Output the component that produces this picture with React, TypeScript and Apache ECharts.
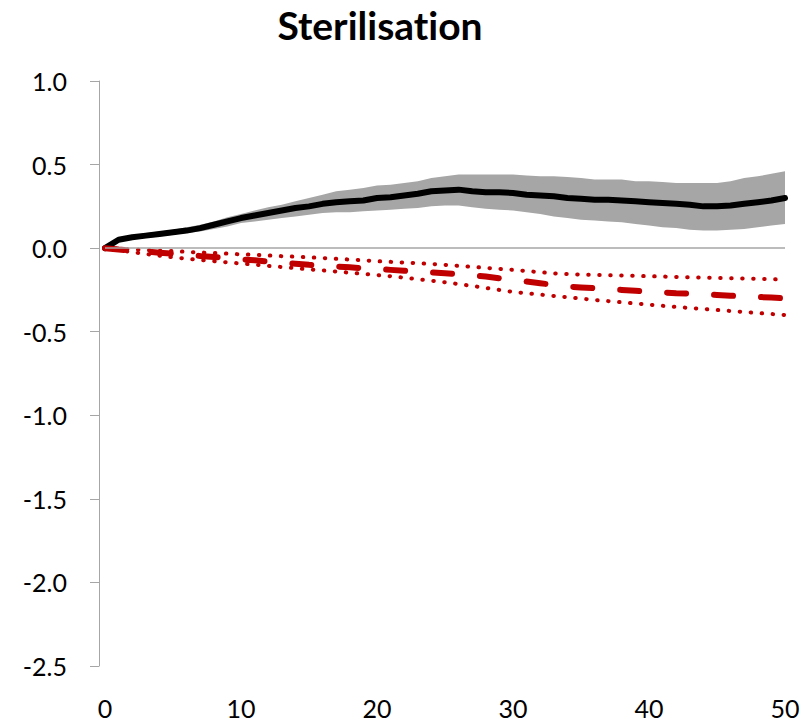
import React, { useEffect, useRef } from "react";
import * as echarts from "echarts";

const xs: string[] = Array.from({ length: 51 }, (_, i) => String(i));

const blackMean = [0, 0.05, 0.065, 0.075, 0.085, 0.095, 0.105, 0.12, 0.14, 0.16, 0.18, 0.195, 0.21, 0.225, 0.24, 0.25, 0.265, 0.275, 0.28, 0.285, 0.3, 0.305, 0.315, 0.325, 0.34, 0.345, 0.35, 0.34, 0.335, 0.335, 0.33, 0.32, 0.315, 0.31, 0.3, 0.295, 0.29, 0.29, 0.285, 0.28, 0.275, 0.27, 0.265, 0.26, 0.25, 0.25, 0.255, 0.265, 0.275, 0.285, 0.3];

const bandUpper = [0, 0.06, 0.075, 0.09, 0.1, 0.11, 0.125, 0.14, 0.16, 0.185, 0.205, 0.225, 0.245, 0.26, 0.28, 0.3, 0.32, 0.34, 0.35, 0.36, 0.375, 0.38, 0.39, 0.4, 0.42, 0.43, 0.44, 0.44, 0.44, 0.44, 0.44, 0.435, 0.43, 0.43, 0.425, 0.42, 0.41, 0.41, 0.41, 0.4, 0.4, 0.395, 0.39, 0.39, 0.39, 0.39, 0.4, 0.42, 0.43, 0.445, 0.46];

const bandLower = [0, 0.04, 0.055, 0.06, 0.07, 0.08, 0.09, 0.1, 0.115, 0.13, 0.15, 0.16, 0.17, 0.18, 0.19, 0.2, 0.21, 0.215, 0.215, 0.22, 0.225, 0.23, 0.235, 0.24, 0.25, 0.255, 0.255, 0.245, 0.235, 0.23, 0.225, 0.215, 0.205, 0.19, 0.18, 0.17, 0.165, 0.16, 0.155, 0.145, 0.135, 0.125, 0.12, 0.11, 0.105, 0.105, 0.11, 0.115, 0.125, 0.135, 0.145];

const redMean = [0, -0.008, -0.015, -0.02, -0.027, -0.033, -0.04, -0.047, -0.053, -0.06, -0.067, -0.073, -0.08, -0.087, -0.093, -0.1, -0.105, -0.11, -0.115, -0.12, -0.125, -0.13, -0.135, -0.14, -0.145, -0.15, -0.157, -0.163, -0.17, -0.18, -0.19, -0.2, -0.21, -0.22, -0.23, -0.235, -0.24, -0.245, -0.25, -0.255, -0.26, -0.265, -0.27, -0.272, -0.275, -0.28, -0.285, -0.288, -0.292, -0.296, -0.3];

const redUpper = [0, -0.004, -0.008, -0.011, -0.015, -0.018, -0.022, -0.026, -0.029, -0.033, -0.037, -0.04, -0.044, -0.048, -0.051, -0.055, -0.059, -0.064, -0.068, -0.073, -0.078, -0.082, -0.086, -0.09, -0.095, -0.1, -0.106, -0.112, -0.118, -0.124, -0.13, -0.137, -0.144, -0.151, -0.155, -0.158, -0.16, -0.162, -0.164, -0.166, -0.168, -0.17, -0.172, -0.174, -0.176, -0.178, -0.18, -0.182, -0.184, -0.186, -0.188];

const redLower = [0, -0.012, -0.024, -0.035, -0.045, -0.055, -0.063, -0.071, -0.078, -0.085, -0.092, -0.099, -0.106, -0.113, -0.12, -0.127, -0.133, -0.14, -0.147, -0.154, -0.161, -0.168, -0.177, -0.186, -0.195, -0.204, -0.215, -0.226, -0.238, -0.25, -0.262, -0.27, -0.278, -0.286, -0.294, -0.302, -0.31, -0.317, -0.324, -0.331, -0.338, -0.345, -0.352, -0.358, -0.364, -0.37, -0.376, -0.382, -0.388, -0.394, -0.4];

const TITLE = "Sterilisation";
const FONT = "Lato";

export default function App() {
  const ref = useRef<HTMLDivElement>(null);
  useEffect(() => {
    document.body.style.margin = "0";
    const chart = echarts.init(ref.current!, null, { renderer: "svg" });
    const diff = bandUpper.map((u, i) => +(u - bandLower[i]).toFixed(4));
    chart.setOption({
      animation: false,
      title: {
        text: TITLE,
        left: 375,
        textAlign: "center",
        top: 0,
        textStyle: { fontFamily: FONT, fontSize: 39, fontWeight: "bold", color: "#000" },
      },
      grid: { left: 105, right: 24, top: 81, bottom: 59 },
      xAxis: {
        type: "category",
        data: xs,
        boundaryGap: false,
        axisLine: { show: false },
        axisTick: { show: false },
        splitLine: { show: false },
        axisLabel: { fontFamily: FONT, fontSize: 25, color: "#000", margin: 29, interval: 9 },
      },
      yAxis: {
        type: "value",
        min: -2.5,
        max: 1.0,
        interval: 0.5,
        offset: 6,
        axisLine: { show: true, lineStyle: { color: "#a6a6a6", width: 1 } },
        axisTick: { show: true, length: 9, lineStyle: { color: "#a6a6a6" } },
        splitLine: { show: false },
        axisLabel: {
          fontFamily: FONT,
          fontSize: 25,
          color: "#000",
          margin: 32,
          formatter: (v: number) => v.toFixed(1),
        },
      },
      series: [
        {
          type: "line",
          data: bandLower,
          stack: "band",
          symbol: "none",
          lineStyle: { opacity: 0 },
          silent: true,
          markLine: {
            silent: true,
            symbol: "none",
            label: { show: false },
            lineStyle: { color: "#a6a6a6", type: "solid", width: 1.5 },
            data: [[{ coord: ["0", 0] }, { coord: ["50", 0] }]],
          },
        },
        {
          type: "line",
          data: diff,
          stack: "band",
          symbol: "none",
          lineStyle: { opacity: 0 },
          areaStyle: { color: "#a6a6a6", opacity: 1 },
          silent: true,
        },
        {
          type: "line",
          data: blackMean,
          symbol: "none",
          lineStyle: { color: "#000", width: 6, cap: "round", join: "round" },
        },
        {
          type: "line",
          data: redUpper,
          symbol: "none",
          lineStyle: { color: "#c00000", width: 4, type: [0.5, 10.5], cap: "round" },
        },
        {
          type: "line",
          data: redLower,
          symbol: "none",
          lineStyle: { color: "#c00000", width: 4, type: [0.5, 10.5], cap: "round" },
        },
        {
          type: "line",
          data: redMean,
          symbol: "none",
          lineStyle: { color: "#c00000", width: 6, type: [19, 28], cap: "round" },
        },
      ],
    });
    return () => chart.dispose();
  }, []);
  return (
    <>
      <style>{"svg text { font-variant-ligatures: none !important; font-feature-settings: 'liga' 0, 'clig' 0 !important; }"}</style>
      <div ref={ref} style={{ width: 809, height: 725 }} />
    </>
  );
}
